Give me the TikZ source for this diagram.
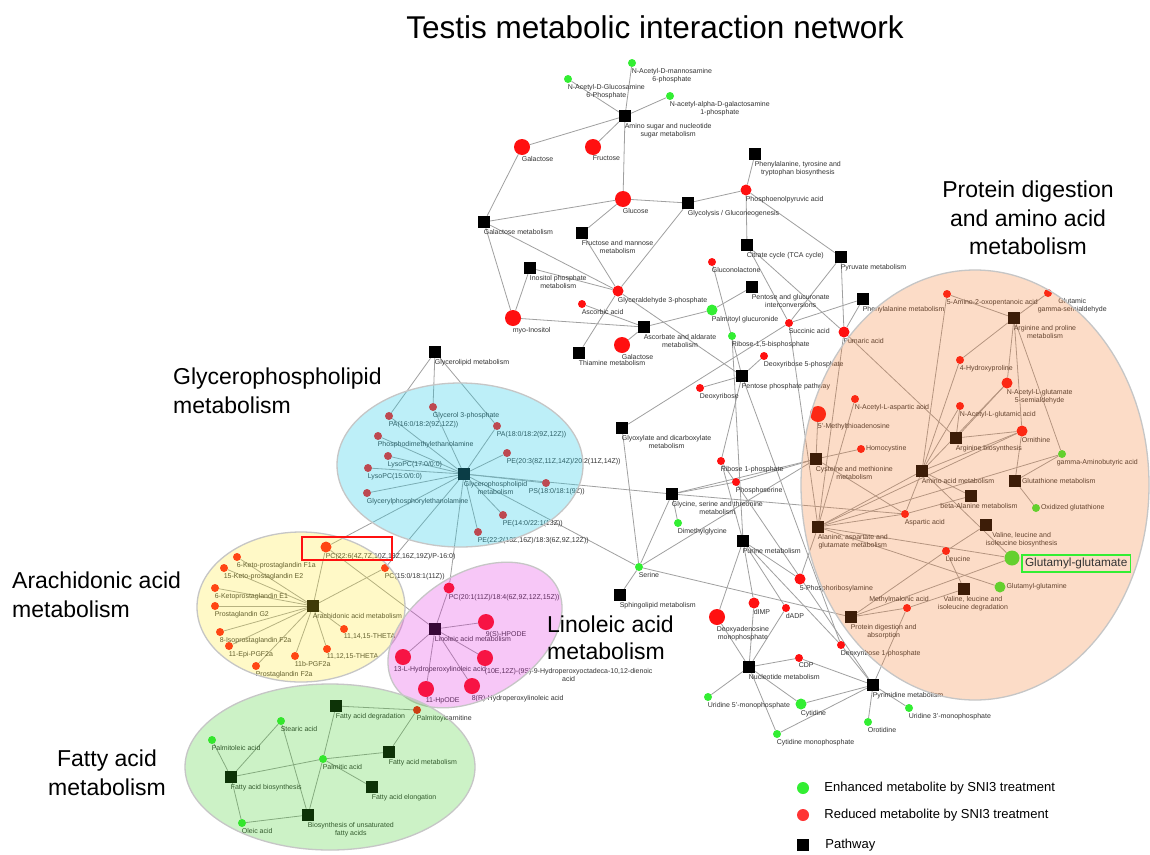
\documentclass[tikz,border=0pt]{standalone}
\usepackage{fontspec}
\setmainfont{Liberation Sans}
\usetikzlibrary{positioning}
\pgfdeclarelayer{links}
\pgfsetlayers{links,main}
\definecolor{Reduced}{HTML}{FF1010}
\definecolor{Enhanced}{HTML}{33EE33}
\definecolor{Edge}{HTML}{A0A0A0}
\definecolor{LabelText}{HTML}{333333}
\definecolor{CyanOver}{RGB}{38,205,232}
\definecolor{YellowOver}{RGB}{255,235,35}
\definecolor{PinkOver}{RGB}{227,35,227}
\definecolor{GreenOver}{RGB}{55,207,31}
\definecolor{PeachOver}{RGB}{247,119,35}
\tikzset{
  lbl/.style={font=\fontsize{7}{8.4}\selectfont, text=LabelText, align=center, inner sep=0.6pt},
  lb/.style={label={[lbl, anchor=north west, xshift=-1pt]south:#1}},
  lbr/.style={label={[lbl, anchor=west]east:#1}},
  redS/.style={circle, fill=Reduced, minimum size=8pt, inner sep=0pt},
  redM/.style={circle, fill=Reduced, minimum size=11pt, inner sep=0pt},
  redL/.style={circle, fill=Reduced, minimum size=16pt, inner sep=0pt},
  grnS/.style={circle, fill=Enhanced, minimum size=8pt, inner sep=0pt},
  grnM/.style={circle, fill=Enhanced, minimum size=11pt, inner sep=0pt},
  grnL/.style={circle, fill=Enhanced, minimum size=15pt, inner sep=0pt},
  pathway/.style={rectangle, fill=black, minimum size=12pt, inner sep=0pt},
  link/.style={draw=Edge, line width=0.8pt},
  region/.style={draw=gray!45, line width=1.3pt},
  heading/.style={font=\fontsize{23}{28.5}\selectfont, inner sep=0pt},
  legtxt/.style={font=\fontsize{13}{15}\selectfont, inner sep=0pt}
}
\begin{document}
\begin{tikzpicture}[x=1pt, y=-1pt]
  \useasboundingbox (0,0) rectangle (1150,854);
  \begin{pgfonlayer}{links}
    \fill[white] (0,0) rectangle (1150,854);
  \end{pgfonlayer}

  \node[font=\fontsize{31.5}{36}\selectfont, anchor=base] (title) at (655,38) {Testis metabolic interaction network};

  % sugars and energy
  \node[grnS, lb={N-Acetyl-D-mannosamine\\6-phosphate}] (manac) at (632,63) {};
  \node[grnS, lb={N-Acetyl-D-Glucosamine\\6-Phosphate}] (glcnac) at (568,79) {};
  \node[grnS, lb={N-acetyl-alpha-D-galactosamine\\1-phosphate}] (galnac) at (670,96) {};
  \node[pathway, lb={Amino sugar and nucleotide\\sugar metabolism}] (aminosugar) at (625,116) {};
  \node[redL, lb={Galactose}] (galactose) at (522,147) {};
  \node[redL, lb={Fructose}] (fructose) at (593,147) {};
  \node[redL, lb={Glucose}] (glucose) at (623,199) {};
  \node[pathway, lb={Glycolysis / Gluconeogenesis}] (glycolysis) at (688,203) {};
  \node[pathway, lb={Galactose metabolism}] (galmet) at (484,222) {};
  \node[pathway, lb={Fructose and mannose\\metabolism}] (frumet) at (582,233) {};
  \node[pathway, lb={Phenylalanine, tyrosine and\\tryptophan biosynthesis}] (phetyr) at (755,154) {};
  \node[redM, lb={Phosphoenolpyruvic acid}] (pep) at (746,190) {};
  \node[pathway, lb={Citrate cycle (TCA cycle)}] (tca) at (747,245) {};
  \node[pathway, lb={Pyruvate metabolism}] (pyrmet) at (841,257) {};
  \node[redS, lb={Gluconolactone}] (gluconolac) at (712,262) {};
  \node[pathway, lb={Inositol phosphate\\metabolism}] (inositolmet) at (530,268) {};
  \node[pathway, lb={Pentose and glucuronate\\interconversions}] (pentglu) at (752,287) {};
  \node[redM, lb={Glyceraldehyde 3-phosphate}] (g3p) at (618,291) {};
  \node[pathway, lb={Phenylalanine metabolism}] (phemet) at (863,299) {};
  \node[redS, lb={Ascorbic acid}] (ascorbic) at (582,304) {};
  \node[grnM, lb={Palmitoyl glucuronide}] (palmgluc) at (712,310) {};
  \node[redL, lb={myo-Inositol}] (myoinositol) at (513,318) {};
  \node[redS, lb={Succinic acid}] (succinic) at (789,323) {};
  \node[pathway, lb={Ascorbate and aldarate\\metabolism}] (ascmet) at (644,327) {};
  \node[redM, lb={Fumaric acid}] (fumaric) at (844,332) {};
  \node[grnS, lb={Ribose-1,5-bisphosphate}] (rib15bp) at (732,336) {};
  \node[redL, lb={Galactose}] (galactoseb) at (622,345) {};
  \node[pathway, lb={Glycerolipid metabolism}] (glycerolipid) at (435,352) {};
  \node[pathway, lb={Thiamine metabolism}] (thiamine) at (579,353) {};
  \node[redS, lb={Deoxyribose 5-phosphate}] (dr5p) at (764,356) {};
  \node[pathway, lb={Pentose phosphate pathway}] (ppp) at (742,376) {};
  \node[redS, lb={Deoxyribose}] (deoxyribose) at (700,388) {};

  % glycerophospholipids
  \node[redS, lb={PA(16:0/18:2(9Z,12Z))}] (pa16) at (389,416) {};
  \node[redS, lb={Glycerol 3-phosphate}] (glycerol3p) at (433,407) {};
  \node[redS, lb={PA(18:0/18:2(9Z,12Z))}] (pa18) at (497,426) {};
  \node[redS, lb={Phosphodimethylethanolamine}] (pdme) at (378,436) {};
  \node[redS, lb={LysoPC(17:0/0:0)}] (lysopc17) at (388,456) {};
  \node[redS, lb={LysoPC(15:0/0:0)}] (lysopc15) at (368,468) {};
  \node[redS, lb={Glycerylphosphorylethanolamine}] (gpe) at (367,493) {};
  \node[redS, lb={PE(20:3(8Z,11Z,14Z)/20:2(11Z,14Z))}] (pe203) at (507,453) {};
  \node[pathway, lb={Glycerophospholipid\\metabolism}] (gplmet) at (464,474) {};
  \node[redS, label={[lbl, anchor=north west, xshift=-18pt]south:PS(18:0/18:1(9Z))}] (ps18) at (546,483) {};
  \node[redS, lb={PE(14:0/22:1(13Z))}] (pe140) at (503,515) {};
  \node[redS, lb={PE(22:2(13Z,16Z)/18:3(6Z,9Z,12Z))}] (pe222) at (478,532) {};

  % arachidonic acid
  \node[redS, lb={6-Keto-prostaglandin F1a}] (ketof1a) at (237,557) {};
  \node[redS, lb={15-Keto-prostaglandin E2}] (ketoe2) at (224,568) {};
  \node[redS, lb={6-Ketoprostaglandin E1}] (ketoe1) at (215,588) {};
  \node[redS, lb={Prostaglandin G2}] (pgg2) at (215,606) {};
  \node[redS, lb={8-Isoprostaglandin F2a}] (isof2a) at (220,632) {};
  \node[redS, lb={11-Epi-PGF2a}] (epipgf) at (229,646) {};
  \node[redS, lb={Prostaglandin F2a}] (pgf2a) at (256,666) {};
  \node[redS, lb={11,14,15-THETA}] (theta1) at (344,629) {};
  \node[redS, lb={11,12,15-THETA}] (theta2) at (327,649) {};
  \node[redS, lb={11b-PGF2a}] (bpgf) at (295,656) {};
  \node[pathway, lb={Arachidonic acid metabolism}] (aramet) at (313,606) {};
  \node[redM, lb={PC(22:6(4Z,7Z,10Z,13Z,16Z,19Z)/P-16:0)}] (pc226) at (326,547) {};
  \node[redS, lb={PC(15:0/18:1(11Z))}] (pc150) at (385,568) {};

  % linoleic acid
  \node[redM, lb={PC(20:1(11Z)/18:4(6Z,9Z,12Z,15Z))}] (pc201) at (449,588) {};
  \node[pathway, lb={Linoleic acid metabolism}] (linmet) at (435,629) {};
  \node[redL, lb={9(S)-HPODE}] (hpode9) at (486,622) {};
  \node[redL, label={[lbl, anchor=north west, xshift=-1pt, yshift=-1pt]south:(10E,12Z)-(9S)-9-Hydroperoxyoctadeca-10,12-dienoic\\acid}] (hpod10) at (485,658) {};
  \node[redL, label={[lbl, anchor=north west, xshift=-10pt]south:13-L-Hydroperoxylinoleic acid}] (hpl13) at (403,657) {};
  \node[redL, lb={11-HpODE}] (hpode11) at (426,689) {};
  \node[redL, lb={8(R)-Hydroperoxylinoleic acid}] (hpl8) at (472,686) {};

  % fatty acids
  \node[pathway, lb={Fatty acid degradation}] (fadeg) at (336,706) {};
  \node[redS, lb={Palmitoylcarnitine}] (palmcarn) at (417,710) {};
  \node[grnS, lb={Stearic acid}] (stearic) at (281,721) {};
  \node[grnS, lb={Palmitoleic acid}] (palmitoleic) at (212,740) {};
  \node[pathway, lb={Fatty acid metabolism}] (famet) at (389,752) {};
  \node[grnS, lb={Palmitic acid}] (palmitic) at (323,759) {};
  \node[pathway, lb={Fatty acid biosynthesis}] (fabio) at (231,777) {};
  \node[pathway, lb={Fatty acid elongation}] (faelong) at (372,787) {};
  \node[pathway, lb={Biosynthesis of unsaturated\\fatty acids}] (bufa) at (308,815) {};
  \node[grnS, lb={Oleic acid}] (oleic) at (242,823) {};

  % amino acids and nucleotides
  \node[pathway, lb={Glyoxylate and dicarboxylate\\metabolism}] (glyox) at (622,428) {};
  \node[redS, lb={Ribose 1-phosphate}] (r1p) at (721,461) {};
  \node[redS, lb={Phosphoserine}] (phosphoserine) at (736,482) {};
  \node[pathway, lb={Glycine, serine and threonine\\metabolism}] (glymet) at (672,494) {};
  \node[grnS, lb={Dimethylglycine}] (dmg) at (678,523) {};
  \node[pathway, lb={Purine metabolism}] (purine) at (743,541) {};
  \node[grnS, lb={Serine}] (serine) at (639,567) {};
  \node[pathway, lb={Sphingolipid metabolism}] (sphingo) at (620,595) {};
  \node[redM, lb={5-Phosphoribosylamine}] (pra) at (800,579) {};
  \node[redM, lb={dIMP}] (dimp) at (754,603) {};
  \node[redS, lb={dADP}] (dadp) at (786,608) {};
  \node[redL, lb={Deoxyadenosine\\monophosphate}] (damp) at (717,617) {};
  \node[redS, lb={Deoxyribose 1-phosphate}] (dr1p) at (841,645) {};
  \node[redS, lb={CDP}] (cdp) at (799,658) {};
  \node[pathway, lb={Nucleotide metabolism}] (nucmet) at (749,667) {};
  \node[pathway, lb={Pyrimidine metabolism}] (pyrimidine) at (873,685) {};
  \node[grnS, lb={Uridine 5'-monophosphate}] (ump5) at (708,697) {};
  \node[grnM, lb={Cytidine}] (cytidine) at (801,704) {};
  \node[grnS, lb={Uridine 3'-monophosphate}] (ump3) at (909,708) {};
  \node[grnS, lb={Orotidine}] (orotidine) at (868,722) {};
  \node[grnS, lb={Cytidine monophosphate}] (cmp) at (777,734) {};

  \node[redS, lb={5-Amino-2-oxopentanoic acid}] (amox) at (947,294) {};
  \node[redS, label={[lbl, anchor=north west, xshift=-11pt]south:Glutamic\\gamma-semialdehyde}] (glusa) at (1048,293) {};
  \node[pathway, lb={Arginine and proline\\metabolism}] (argpro) at (1014,318) {};
  \node[redS, lb={4-Hydroxyproline}] (hyp) at (960,360) {};
  \node[redM, lb={N-Acetyl-L-glutamate\\5-semialdehyde}] (nagsa) at (1007,383) {};
  \node[redS, lb={N-Acetyl-L-aspartic acid}] (naa) at (855,399) {};
  \node[redS, lb={N-Acetyl-L-glutamic acid}] (nag) at (960,406) {};
  \node[redL, lb={5'-Methylthioadenosine}] (mta) at (818,414) {};
  \node[redM, lb={Ornithine}] (ornithine) at (1022,431) {};
  \node[pathway, lb={Arginine biosynthesis}] (argbio) at (956,438) {};
  \node[redS, lbr={Homocystine}] (homocystine) at (861,449) {};
  \node[grnS, label={[lbl, anchor=north west, xshift=-6pt]south:gamma-Aminobutyric acid}] (gaba) at (1062,454) {};
  \node[pathway, lb={Cysteine and methionine\\metabolism}] (cysmet) at (816,459) {};
  \node[pathway, lb={Amino acid metabolism}] (aamet) at (922,471) {};
  \node[pathway, lbr={Glutathione metabolism}] (gsh) at (1015,481) {};
  \node[pathway, label={[lbl, xshift=8pt]south:beta-Alanine metabolism}] (betaala) at (971,496) {};
  \node[grnS, lbr={Oxidized glutathione}] (gssg) at (1036,508) {};
  \node[redS, lb={Aspartic acid}] (aspartic) at (905,514) {};
  \node[pathway, lb={Valine, leucine and\\isoleucine biosynthesis}] (valbio) at (986,525) {};
  \node[pathway, lb={Alanine, aspartate and\\glutamate metabolism}] (alamet) at (818,527) {};
  \node[redS, lb={Leucine}] (leucine) at (946,551) {};
  \node[grnL] (glutglu) at (1012,558) {};
  \node[grnM, lbr={Glutamyl-glutamine}] (glutgln) at (1000,587) {};
  \node[pathway, label={[lbl, xshift=9pt]south:Valine, leucine and\\isoleucine degradation}] (valdeg) at (964,589) {};
  \node[redS, label={[lbl, anchor=south, xshift=-8pt]north:Methylmalonic acid}] (mma) at (907,608) {};
  \node[pathway, lb={Protein digestion and\\absorption}] (protdig) at (851,617) {};

  \begin{pgfonlayer}{links}
    \foreach \m in {manac,glcnac,galnac,galactose,fructose,glucose}
      \draw[link] (aminosugar) -- (\m);
    \draw[link] (galactose) -- (galmet);
    \draw[link] (glucose) -- (galmet);
    \draw[link] (glucose) -- (glycolysis);
    \draw[link] (glucose) -- (frumet);
    \draw[link] (galmet) -- (myoinositol);
    \draw[link] (galmet) -- (g3p);
    \draw[link] (frumet) -- (g3p);
    \draw[link] (glycolysis) -- (g3p);
    \draw[link] (inositolmet) -- (myoinositol);
    \draw[link] (inositolmet) -- (g3p);
    \draw[link] (myoinositol) -- (ascmet);
    \draw[link] (ascorbic) -- (ascmet);
    \draw[link] (galactoseb) -- (ascmet);
    \draw[link] (ascmet) -- (palmgluc);
    \draw[link] (palmgluc) -- (pentglu);
    \draw[link] (g3p) -- (thiamine);
    \draw[link] (g3p) -- (ppp);
    \draw[link] (phetyr) -- (pep);
    \draw[link] (pep) -- (glycolysis);
    \draw[link] (pep) -- (tca);
    \draw[link] (pep) -- (pyrmet);
    \draw[link] (tca) -- (succinic);
    \draw[link] (tca) -- (fumaric);
    \draw[link] (pyrmet) -- (succinic);
    \draw[link] (pyrmet) -- (fumaric);
    \draw[link] (phemet) -- (fumaric);
    \draw[link] (phemet) -- (succinic);
    \draw[link] (gluconolac) -- (ppp);
    \draw[link] (dr5p) -- (ppp);
    \draw[link] (deoxyribose) -- (ppp);
    \draw[link] (ppp) -- (r1p);
    \draw[link] (ppp) -- (dr1p);
    \draw[link] (rib15bp) -- (purine);
    \draw[link] (glyox) -- (succinic);
    \draw[link] (glyox) -- (serine);
    % lipids
    \foreach \m in {pa16,glycerol3p,pa18}
      \draw[link] (glycerolipid) -- (\m);
    \foreach \m in {pa16,glycerol3p,pa18,pdme,lysopc17,lysopc15,gpe,pe203,ps18,pe140,pe222,pc226,pc150,pc201,glymet,serine}
      \draw[link] (gplmet) -- (\m);
    \foreach \m in {ketof1a,ketoe2,ketoe1,pgg2,isof2a,epipgf,pgf2a,theta1,theta2,bpgf,pc226,pc150}
      \draw[link] (aramet) -- (\m);
    \foreach \m in {pc201,hpode9,hpod10,hpl13,hpode11,hpl8,pc226}
      \draw[link] (linmet) -- (\m);
    \draw[link] (fadeg) -- (palmcarn);
    \draw[link] (fadeg) -- (palmitic);
    \draw[link] (palmcarn) -- (famet);
    \foreach \m in {famet,fabio,faelong,bufa}
      \draw[link] (palmitic) -- (\m);
    \draw[link] (stearic) -- (fabio);
    \draw[link] (stearic) -- (bufa);
    \draw[link] (palmitoleic) -- (fabio);
    \draw[link] (fabio) -- (oleic);
    \draw[link] (oleic) -- (bufa);
    % amino acids and nucleotides
    \draw[link] (glymet) -- (dmg);
    \draw[link] (glymet) -- (serine);
    \draw[link] (glymet) -- (phosphoserine);
    \draw[link] (glymet) -- (cysmet);
    \draw[link] (glymet) -- (aspartic);
    \draw[link] (phosphoserine) -- (cysmet);
    \draw[link] (serine) -- (sphingo);
    \draw[link] (serine) -- (cysmet);
    \draw[link] (serine) -- (protdig);
    \draw[link] (r1p) -- (purine);
    \draw[link] (r1p) -- (pyrimidine);
    \foreach \m in {pra,damp,dimp,dadp,dr1p}
      \draw[link] (purine) -- (\m);
    \draw[link] (pra) -- (alamet);
    \foreach \m in {damp,dimp,dadp,cdp,ump5,cytidine,cmp}
      \draw[link] (nucmet) -- (\m);
    \foreach \m in {cdp,cytidine,cmp,orotidine,ump3,dr1p,mma}
      \draw[link] (pyrimidine) -- (\m);
    \foreach \m in {amox,glusa,hyp,nagsa,ornithine,gaba}
      \draw[link] (argpro) -- (\m);
    \foreach \m in {amox,hyp,nag,nagsa,ornithine,aspartic,alamet,betaala,glutglu}
      \draw[link] (aamet) -- (\m);
    \foreach \m in {nag,nagsa,ornithine,fumaric}
      \draw[link] (argbio) -- (\m);
    \draw[link] (ornithine) -- (gsh);
    \draw[link] (gsh) -- (gaba);
    \draw[link] (gsh) -- (gssg);
    \foreach \m in {naa,fumaric,succinic,aspartic,gaba,glutglu,glutgln,ornithine}
      \draw[link] (alamet) -- (\m);
    \foreach \m in {mta,homocystine,aspartic}
      \draw[link] (cysmet) -- (\m);
    \draw[link] (aspartic) -- (betaala);
    \draw[link] (leucine) -- (valbio);
    \draw[link] (leucine) -- (valdeg);
    \draw[link] (mma) -- (valdeg);
    \foreach \m in {leucine,glutglu,mma}
      \draw[link] (protdig) -- (\m);
  \end{pgfonlayer}

  % pathway regions
  \path[region, fill=CyanOver, fill opacity=0.3] (460,465) ellipse [x radius=123pt, y radius=82pt];
  \path[region, fill=YellowOver, fill opacity=0.25] (301,607) ellipse [x radius=104pt, y radius=75pt];
  \path[region, fill=PinkOver, fill opacity=0.25, rotate around={32:(475,635)}] (475,635) ellipse [x radius=95pt, y radius=62pt];
  \path[region, fill=GreenOver, fill opacity=0.25] (330,767) ellipse [x radius=145pt, y radius=83pt];
  \path[region, fill=PeachOver, fill opacity=0.25] (975,485) ellipse [x radius=174pt, y radius=215pt];

  \draw[Reduced, line width=1.8pt] (302,537) rectangle (392,560);
  \node[draw=Enhanced, line width=1.6pt, font=\fontsize{11.8}{13}\selectfont, text=LabelText, inner sep=3pt, right=1.5pt of glutglu, yshift=-5.5pt] (glutglulbl) {Glutamyl-glutamate};

  \node[heading, align=center, anchor=north] (protlbl) at (1028,181) {Protein digestion\\and amino acid\\metabolism};
  \node[heading, align=left, anchor=north west] (gpllbl) at (173,368) {Glycerophospholipid\\metabolism};
  \node[heading, align=left, anchor=north west] (aralbl) at (12,572) {Arachidonic acid\\metabolism};
  \node[heading, align=left, anchor=north west, font=\fontsize{23}{26.5}\selectfont] (linlbl) at (547,616) {Linoleic acid\\metabolism};
  \node[heading, align=center, anchor=north] (falbl) at (107,750) {Fatty acid\\metabolism};

  % legend
  \node[circle, fill=Enhanced, minimum size=12pt, inner sep=0pt] (legenh) at (803,788) {};
  \node[legtxt, right=15pt of legenh] (legenhtxt) {Enhanced metabolite by SNI3 treatment};
  \node[circle, fill=Reduced!85, minimum size=12pt, inner sep=0pt] (legred) at (803,815) {};
  \node[legtxt, right=15pt of legred] (legredtxt) {Reduced metabolite by SNI3 treatment};
  \node[pathway] (legpath) at (803,845) {};
  \node[legtxt, right=16pt of legpath] (legpathtxt) {Pathway};
\end{tikzpicture}
\end{document}
